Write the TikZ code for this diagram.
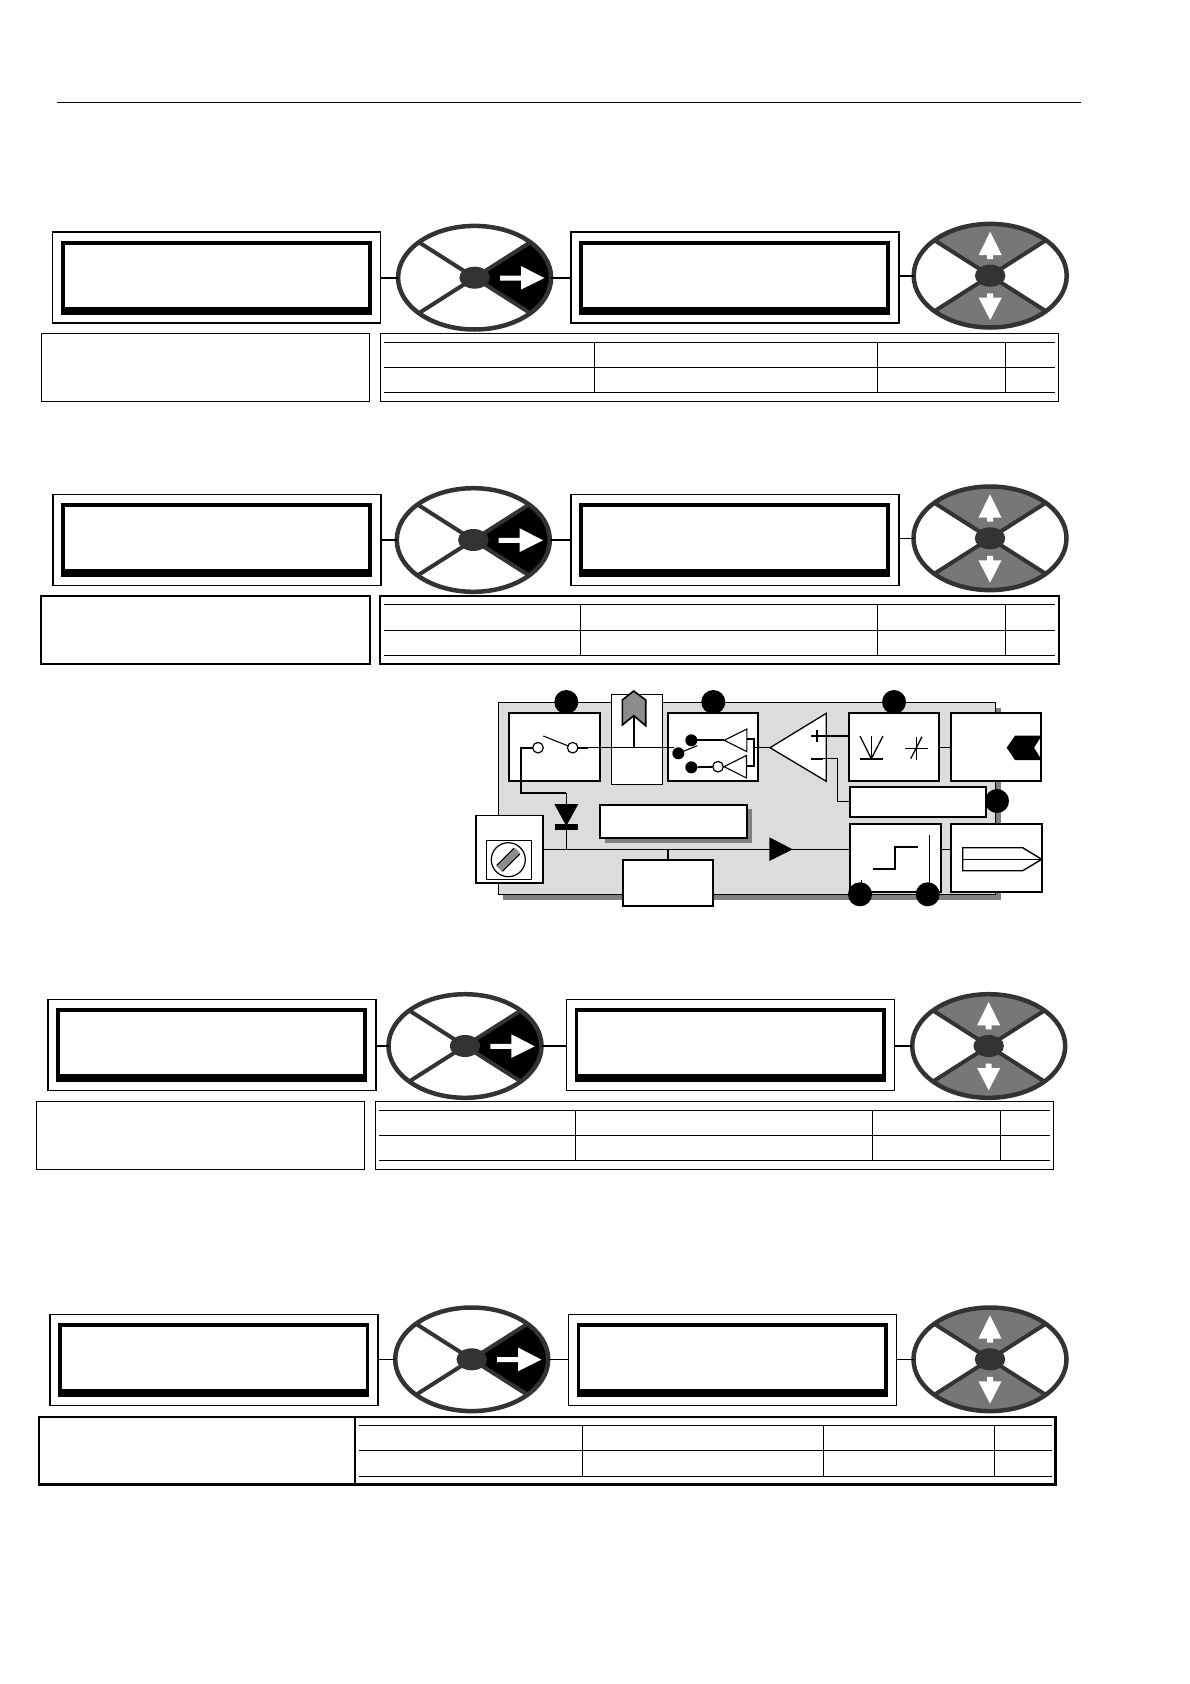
\documentclass[tikz,border=0pt]{standalone}
\usetikzlibrary{shapes.geometric}

\definecolor{rimGray}{HTML}{333333}
\definecolor{keyGray}{HTML}{777777}
\definecolor{panelGray}{HTML}{DCDCDC}
\definecolor{shadowGray}{HTML}{808080}
\definecolor{tagGray}{HTML}{8C8C8C}

\tikzset{
  plainbox/.style={draw, rectangle, fill=white, inner sep=0pt, outer sep=0pt},
  dispbox/.style={plainbox, line width=1.6pt, minimum width=328, minimum height=91},
  dispinner/.style={plainbox, line width=3.8pt, minimum width=307.4, minimum height=66.9},
  wheelrim/.style={draw=rimGray, ellipse, line width=4.5pt, inner sep=0pt, outer sep=0pt,
    minimum width=153, minimum height=103.6},
  wheelhub/.style={fill=rimGray, ellipse, inner sep=0pt, outer sep=0pt,
    minimum width=30.5, minimum height=22},
  spoke/.style={draw=rimGray, line width=4pt},
  blockbox/.style={plainbox, line width=1.7pt},
  shadebox/.style={fill=shadowGray, rectangle, inner sep=0pt, outer sep=0pt},
  blackdot/.style={fill=black, circle, inner sep=0pt, outer sep=0pt, minimum size=24},
  smalldot/.style={fill=black, circle, inner sep=0pt, outer sep=0pt, minimum size=12},
  opendot/.style={draw, fill=white, circle, line width=1.2pt, inner sep=0pt, outer sep=0pt, minimum size=10.6},
  wire/.style={line width=1.1pt},
  heavywire/.style={line width=1.8pt}
}

\begin{document}
\begin{tikzpicture}[x=1pt, y=-1pt]
  \useasboundingbox (0,0) rectangle (1190,1684);

  % Header rule
  \coordinate (HeadL) at (57.3,102.3);
  \coordinate (HeadR) at (1080.5,102.3);
  \draw[line width=1.1pt] (HeadL) -- (HeadR);

  % Four rows: displays, wheels, info box and table
  \foreach \n/\dispL/\dispR/\rowTop/\wheelLx/\wheelLy/\wheelRx/\wheelRy/\infoL/\infoR/\infoT/\infoB/\tabL/\tabR/\ruleA/\ruleB/\ruleC/\colA/\colB/\colC/\boxLw/\linkLw in {
      1/52.5/570.8/232/474.6/277.7/990.2/275.7/41.4/369.6/333.7/401.3/380.4/1058.6/342.3/367.3/392.3/594.5/877.8/1005.6/1.5/2,
      2/52.7/570.7/494.3/473.3/540/990/538.3/41.3/369.7/595.7/664/380.3/1058.7/604.3/630.3/655.3/580.3/877.3/1005.3/1.8/1.3,
      3/47.7/566.3/999.3/465/1046/988.7/1046/36.3/364.3/1101.3/1169.3/375.3/1053.3/1110.3/1135.3/1160.3/575.3/872.3/1000.3/1.5/2,
      4/50/568.3/1314.3/471.7/1359.3/990/1359.3/39/355/1417/1484.7/355/1055.3/1425.3/1450.3/1476.3/582.7/823.3/994.3/2.5/1.3}{

      % Display boxes, each with a heavy inner frame
      \foreach \side/\px in {L/\dispL,R/\dispR}{
          \node[dispbox] (Disp\side\n) at (\px+164,\rowTop+45.5) {};
          \node[dispinner] (Inner\side\n) at (\px+163.8,\rowTop+44.05) {};
          \fill ([shift={(-1.9pt,2.5pt)}]Inner\side\n.south west) rectangle ([shift={(1.9pt,-5.2pt)}]Inner\side\n.south east);
        }

      % Wheels
      \foreach \side/\cx/\cy in {L/\wheelLx/\wheelLy,R/\wheelRx/\wheelRy}{
          \begin{scope}
            \clip (\cx,\cy) ellipse [x radius=76.5pt, y radius=51.8pt];
            \if\side L
              \fill (\cx,\cy) -- (\cx+110,\cy-70) -- (\cx+110,\cy+70) -- cycle;
            \else
              \fill[keyGray] (\cx,\cy) -- (\cx-110,\cy-70) -- (\cx+110,\cy-70) -- cycle;
              \fill[keyGray] (\cx,\cy) -- (\cx-110,\cy+70) -- (\cx+110,\cy+70) -- cycle;
            \fi
            \draw[spoke] (\cx-110,\cy-70) -- (\cx+110,\cy+70);
            \draw[spoke] (\cx-110,\cy+70) -- (\cx+110,\cy-70);
          \end{scope}
          \if\side L
            \fill[white] (\cx+25.4,\cy-2.2) -- (\cx+46.4,\cy-2.2) -- (\cx+46.4,\cy-11.7) -- (\cx+69.7,\cy+0.3)
              -- (\cx+46.4,\cy+11.9) -- (\cx+46.4,\cy+2.8) -- (\cx+25.4,\cy+2.8) -- cycle;
          \else
            \fill[white] (\cx,\cy-44) -- (\cx+11.5,\cy-20.7) -- (\cx+3,\cy-20.7) -- (\cx+3,\cy-16.7)
              -- (\cx-3,\cy-16.7) -- (\cx-3,\cy-20.7) -- (\cx-11.5,\cy-20.7) -- cycle;
            \fill[white] (\cx,\cy+44.3) -- (\cx+11.5,\cy+22) -- (\cx+3,\cy+22) -- (\cx+3,\cy+17.6)
              -- (\cx-3,\cy+17.6) -- (\cx-3,\cy+22) -- (\cx-11.5,\cy+22) -- cycle;
          \fi
          \node[wheelrim] (Wheel\side\n) at (\cx,\cy) {};
          \node[wheelhub] (Hub\side\n) at (\cx,\cy) {};
        }

      % Links along the row
      \draw[line width=\linkLw pt] (WheelL\n.west -| DispL\n.east) -- (WheelL\n.west);
      \draw[line width=\linkLw pt] (WheelL\n.east) -- (WheelL\n.east -| DispR\n.west);
      \draw[line width=\linkLw pt] (WheelR\n.west -| DispR\n.east) -- (WheelR\n.west);

      % Info box and table frame
      \node[plainbox, line width=\boxLw pt, anchor=north west, minimum width=\infoR-\infoL, minimum height=\infoB-\infoT]
        (Info\n) at (\infoL,\infoT) {};
      \node[plainbox, line width=\boxLw pt, anchor=north west, minimum width=\tabR-\tabL, minimum height=\infoB-\infoT]
        (Table\n) at (\tabL,\infoT) {};

      % Table rules
      \foreach \y in {\ruleA,\ruleB,\ruleC}{
          \draw[line width=1.2pt] (\tabL+3.6,\y) -- (\tabR-3.6,\y);
        }
      \foreach \x in {\colA,\colB,\colC}{
          \draw[line width=1.2pt] (\x,\ruleA) -- (\x,\ruleC);
        }
    }

  % Block diagram: grey panel and its shadow
  \node[shadebox, minimum width=497.4, minimum height=192] (PanelShade) at (752,803.8) {};
  \node[plainbox, fill=panelGray, line width=1.1pt, minimum width=497.4, minimum height=192] (Panel) at (747,798.3) {};

  % Bus and its drop
  \coordinate (BusL) at (543.3,849.3);
  \coordinate (BusR) at (849.7,849.3);
  \coordinate (BusDrop) at (667.7,849.3);
  \draw[wire] (BusL) -- (BusR);

  % Blocks
  \node[blockbox, minimum width=91, minimum height=68] (SwitchBox) at (554.8,747.3) {};
  \node[blockbox, line width=1.2pt, minimum width=51, minimum height=90] (ProbeBox) at (636.8,739.3) {};
  \node[blockbox, minimum width=90.6, minimum height=68] (RelayBox) at (713,747.3) {};
  \node[blockbox, minimum width=90.3, minimum height=68] (LimitBox) at (893.8,747.3) {};
  \node[blockbox, minimum width=90.6, minimum height=68] (ChevronBox) at (996,747.3) {};
  \node[blockbox, minimum width=136, minimum height=30.6] (LongBox) at (917.7,802) {};
  \node[blockbox, minimum width=91, minimum height=68] (StepBox) at (895.2,858) {};
  \node[blockbox, minimum width=91, minimum height=68] (PencilBox) at (996.8,858) {};
  \node[shadebox, minimum width=147, minimum height=33.3] (LabelShade) at (678,826) {};
  \node[blockbox, minimum width=147, minimum height=33.3] (LabelBox) at (673.8,821.3) {};
  \node[blockbox, minimum width=67.6, minimum height=67.7] (ScrewBox) at (509.5,849.2) {};
  \node[blockbox, line width=1.2pt, minimum width=44.6, minimum height=39] (ScrewPlate) at (509,859.8) {};
  \node[blockbox, minimum width=90.6, minimum height=46] (LowBox) at (668,883.3) {};

  \draw[heavywire] (BusDrop) -- (BusDrop |- LowBox.north);

  % Screw
  \node[draw, fill=white, circle, line width=1.2pt, inner sep=0pt, minimum size=34] (ScrewHead) at (508.3,859.7) {};
  \draw[line width=9.4pt] (499.6,868.4) -- (517,851);
  \draw[line width=7pt, tagGray] (499.2,868.8) -- (517.4,850.6);

  % Switch
  \node[opendot] (SwA) at (538,747.7) {};
  \node[opendot] (SwB) at (572.7,747.7) {};
  \coordinate (BladeA) at (543.3,736);
  \coordinate (BladeB) at (568.3,746);
  \draw[wire] (BladeA) -- (BladeB);

  % Diode
  \coordinate (DiodeIn) at (566.3,804);
  \coordinate (DiodeOut) at (566.3,829.7);
  \coordinate (WireBendA) at (521,747.7);
  \coordinate (WireBendB) at (566.3,793.3);
  \fill (554.3,804) -- (578.3,804) -- (566.3,826) -- cycle;
  \fill (555,824.4) rectangle (578,829.7);
  \draw[heavywire] (SwA.west) -- (WireBendA) |- (WireBendB);
  \draw[wire] (WireBendB) -- (DiodeIn);
  \draw[wire] (DiodeOut) -- (DiodeOut |- BusL);

  % Probe tag and its stem
  \coordinate (StemFoot) at (633.7,747.7);
  \coordinate (StemTop) at (633.7,715.7);
  \draw[line width=1.6pt, fill=tagGray] (622.3,700) -- (633.7,691) -- (645.7,700) -- (645.7,725.7)
    -- (633.7,715.7) -- (622.3,725) -- cycle;
  \draw[heavywire] (StemFoot) -- (StemTop);

  % Relay contacts
  \node[smalldot] (ContactA) at (691.3,740.3) {};
  \node[smalldot] (ContactB) at (678.3,753.3) {};
  \node[smalldot] (ContactC) at (691.3,767.3) {};
  \node[opendot] (ContactOpen) at (718,766.7) {};
  \coordinate (BladeC) at (697.3,745.7);
  \draw[wire] (ContactB) -- (BladeC);
  \draw[heavywire] (SwB.east) -- ++(10,0);
  \draw[wire] (SwB.east) -- (ContactB.north west |- SwB.east);
  \coordinate (GateA) at (724.3,740.3);
  \coordinate (GateB) at (724,766.7);
  \foreach \g in {GateA,GateB}{
      \draw[wire, fill=white] (\g) -- ++(22.5,-11.3) -- ++(0,22.6) -- cycle;
    }
  \draw[heavywire] (ContactA) -- (GateA);
  \draw[heavywire] (ContactC) -- (ContactOpen);
  \draw[wire] (746.7,739) -- (754,739) -- (754,766) -- (746.7,766);

  % Amplifier
  \coordinate (AmpTip) at (770,747.7);
  \coordinate (RelayOut) at (754,747.7);
  \coordinate (AmpPlus) at (823.3,736);
  \coordinate (AmpMinus) at (823.3,758.7);
  \draw[line width=1.3pt, fill=white] (AmpTip) -- (826.3,713.3) -- (826.3,781.3) -- cycle;
  \draw[wire] (RelayOut) -- (AmpTip);
  \draw[heavywire] (811,736) -- (AmpPlus);
  \draw[heavywire] (817,730) -- (817,742);
  \draw[heavywire] (811,758.7) -- (AmpMinus);
  \draw[wire] (AmpPlus) -- (AmpPlus -| LimitBox.west);
  \draw[wire] (AmpMinus) -| (837.7,801.3) -- (837.7,801.3 -| LongBox.west);

  % Symbols inside the limit box
  \draw[line width=1.3pt] (860,736) -- (871.3,758.7) -- (883,736);
  \draw[line width=0.9pt] (871.3,736) -- (871.3,758.7);
  \draw[heavywire] (860,758.7) -- (883,758.7);
  \draw[wire] (905,748.3) -- (928.3,748.3);
  \draw[line width=0.9pt] (916.3,736.7) -- (916.3,760);
  \draw[line width=1.3pt] (910.7,758.7) -- (922,736.7);
  \draw[wire] (LimitBox.east) -- (ChevronBox.west);

  % Chevron
  \fill (1006.7,747.7) -- (1015,735.7) -- (1041.7,735.7) -- (1034,747.7) -- (1041.7,760) -- (1015,760) -- cycle;

  % Bus triangle
  \fill (769.3,837.3) -- (792.7,849.3) -- (769.3,861) -- cycle;

  % Step symbol
  \draw[heavywire] (873.3,869) -- (895.3,869) -- (895.3,846.7) -- (917.7,846.7);
  \draw[wire] (929.7,835) -- (929.7,892);
  \draw[line width=0.9pt] (861.7,880) -- (861.7,886);
  \coordinate (StepOut) at (940.7,849.3);
  \draw[wire] (StepOut) -- (StepOut -| PencilBox.west);

  % Pencil symbol
  \draw[line width=1.4pt] (962.7,847.7) -- (1022.7,847.7) -- (1041.7,859.3) -- (1022.7,870.7) -- (962.7,870.7) -- cycle;
  \draw[line width=0.9pt] (962.7,859.3) -- (1043,859.3);

  % Black markers
  \foreach \i/\px/\py in {1/566.3/702,2/713.3/702,3/894/702,4/997/801,5/860/894.3,6/927.7/894.3}{
      \node[blackdot] (Mark\i) at (\px,\py) {};
    }
\end{tikzpicture}
\end{document}
